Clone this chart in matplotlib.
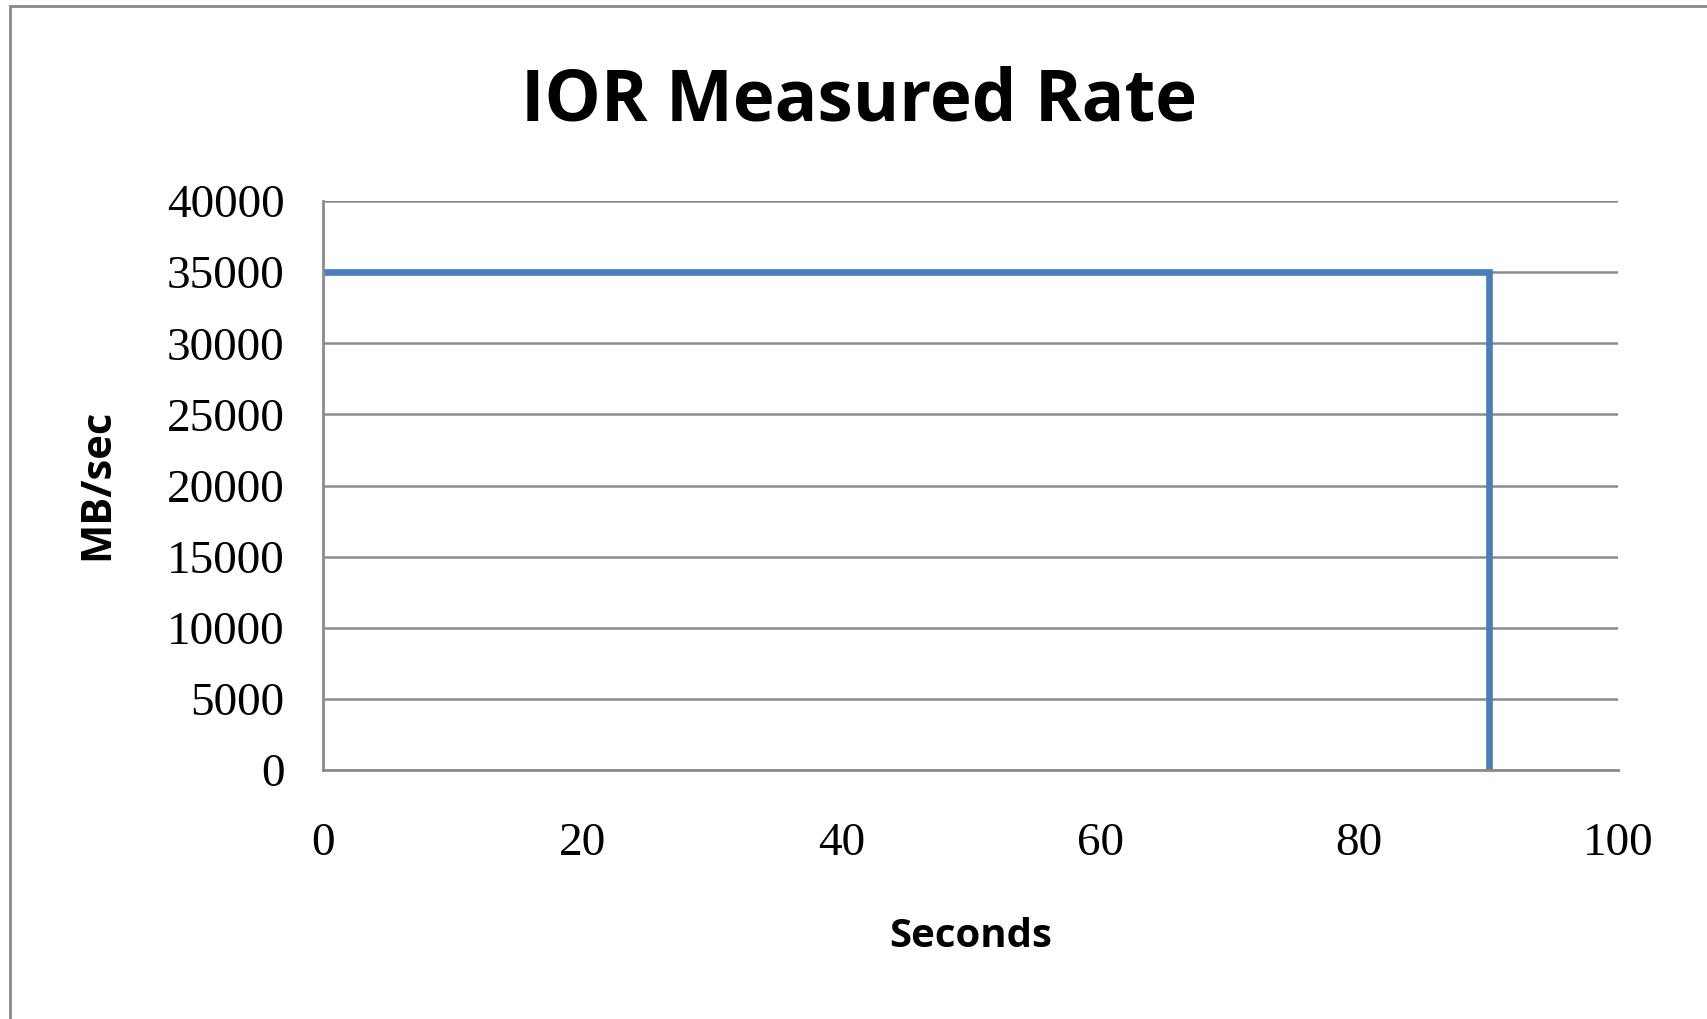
import matplotlib.pyplot as plt
from matplotlib.patches import Rectangle

seconds = [0, 90, 90]
rate = [35000, 35000, 0]
x_ticks = [0, 20, 40, 60, 80, 100]
y_ticks = [0, 5000, 10000, 15000, 20000, 25000, 30000, 35000, 40000]

fig = plt.figure(figsize=(17.07, 10.19), dpi=100)
ax = fig.add_axes([0.1895, 0.2444, 0.7584, 0.5583])

# outer chart border (Excel chart area)
fig.patches.append(
    Rectangle((10 / 1707, -0.05), 1.1, 1 - 6 / 1019 + 0.05,
              transform=fig.transFigure, fill=False,
              edgecolor="#8a8a8a", linewidth=2)
)

ax.plot(seconds, rate, color="#4A7EBB", linewidth=4.8, solid_joinstyle="miter")

ax.set_xlim(0, 100)
ax.set_ylim(0, 40000)
ax.set_xticks(x_ticks)
ax.set_yticks(y_ticks)
ax.tick_params(length=0, labelsize=34)
ax.tick_params(axis="y", pad=28)
ax.tick_params(axis="x", pad=38)
for lab in ax.get_xticklabels() + ax.get_yticklabels():
    lab.set_family("Liberation Serif")

ax.grid(axis="y", color="#8c8c8c", linewidth=1.8)
ax.set_axisbelow(True)
for side in ["top", "right"]:
    ax.spines[side].set_visible(False)
for side in ["left", "bottom"]:
    ax.spines[side].set_color("#8c8c8c")
    ax.spines[side].set_linewidth(2)

ax.set_xlabel("Seconds", fontsize=29, fontweight="bold", family="Open Sans", va="center")
ax.xaxis.set_label_coords(0.5, (770 - 937) / 569)

fig.text(98 / 1707, 0.5244, "MB/sec", rotation=90, ha="center", va="center",
         fontsize=30, fontweight="bold", family="Open Sans")

fig.text(0.503, 0.9, "IOR Measured Rate", ha="center", va="center",
         fontsize=51, fontweight="bold", family="Open Sans")

fig.savefig("out.png", dpi=100)
